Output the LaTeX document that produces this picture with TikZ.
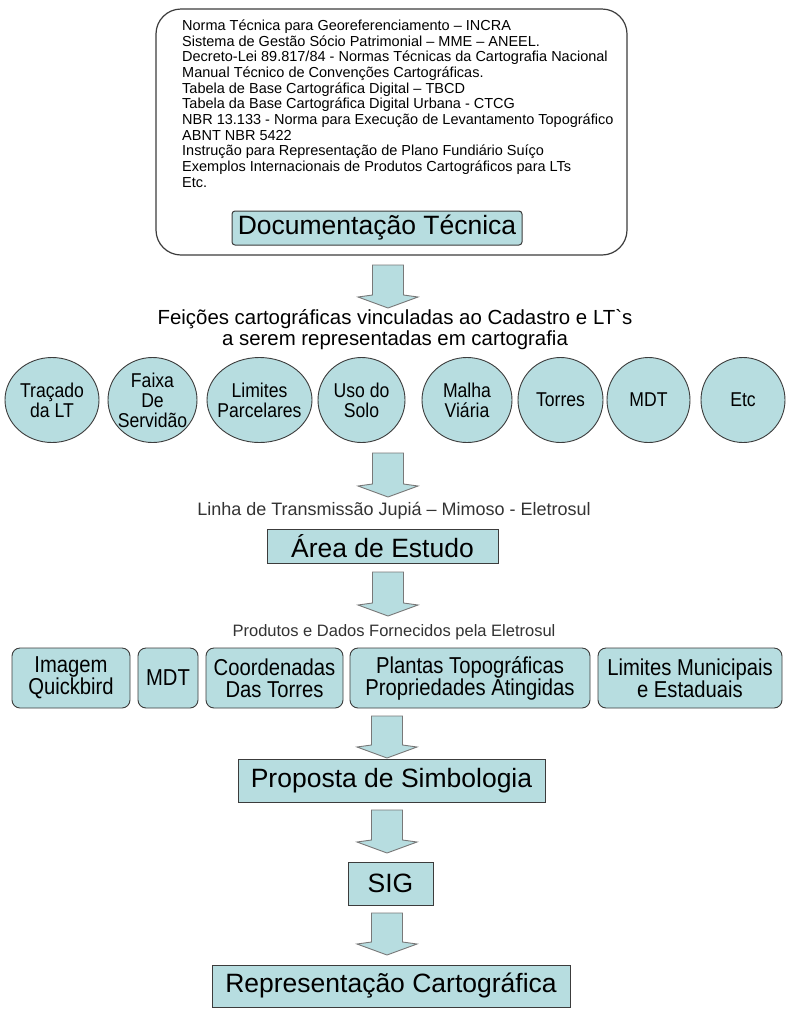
\documentclass[tikz,border=0pt]{standalone}
\usepackage{fontspec}
\setmainfont{Liberation Sans}
\newfontfamily\nf{Liberation Sans}[FakeStretch=0.88]
\usetikzlibrary{shapes.geometric}
\definecolor{lb}{RGB}{183,221,224}
\definecolor{bd}{RGB}{60,60,60}
\definecolor{ag}{RGB}{120,120,120}
\newcommand\myarrow[3]{%
  \draw[blockarrow] (#1-15.5,#2) -- (#1+15.5,#2) -- (#1+15.5,#3-13) -- (#1+30,#3-11)
    -- (#1,#3) -- (#1-30,#3-11) -- (#1-15.5,#3-13) -- cycle;}
\begin{document}
\begin{tikzpicture}[x=1pt,y=-1pt,
  blockarrow/.style={draw=ag, fill=lb, line width=0.9pt, line join=miter},
  mainbox/.style={draw=bd, fill=lb, line width=1pt, inner sep=0pt,
    font=\fontsize{26.5}{30}\selectfont},
  circ/.style={ellipse, draw=bd, fill=lb, line width=0.9pt, inner sep=0pt,
    minimum height=85pt},
  circtext/.style={inner sep=0pt, align=center, font=\nf\fontsize{20}{20}\selectfont},
  prodbox/.style={draw=bd, fill=lb, line width=0.9pt, rounded corners=8pt,
    inner sep=0pt, align=center, font=\nf\fontsize{23}{22}\selectfont},
  label/.style={inner sep=0pt, align=center}]
\useasboundingbox[fill=white] (0,0) rectangle (787,1010);

% documentation frame
\node[draw=bd, line width=1.2pt, rounded corners=25pt, minimum width=471pt,
  minimum height=246pt, inner sep=0pt] (frame) at (391.5,132) {};
\node[anchor=north west, inner sep=0pt, align=left,
  font=\fontsize{14.5}{15.7}\selectfont] (list) at (182,19.5) {%
Norma Técnica para Georeferenciamento – INCRA\\
Sistema de Gestão Sócio Patrimonial – MME – ANEEL.\\
Decreto-Lei 89.817/84 - Normas Técnicas da Cartografia Nacional\\
Manual Técnico de Convenções Cartográficas.\\
Tabela de Base Cartográfica Digital – TBCD\\
Tabela da Base Cartográfica Digital Urbana - CTCG\\
NBR 13.133 - Norma para Execução de Levantamento Topográfico\\
ABNT NBR 5422\\
Instrução para Representação de Plano Fundiário Suíço\\
Exemplos Internacionais de Produtos Cartográficos para LTs\\
Etc.};
\node[mainbox, rounded corners=3pt, minimum width=290pt, minimum height=34pt]
  (doc) at (377,228) {Documentação Técnica};

\myarrow{388}{265}{308}

\node[label, font=\fontsize{20.4}{21}\selectfont] (head) at (395,330)
  {Feições cartográficas vinculadas ao Cadastro e LT\textasciigrave s\\a serem representadas em cartografia};

% feature ellipses
\node[circ, minimum width=94pt] (c1) at (52,400) {};
\node[circ, minimum width=89pt] (c2) at (152.5,400) {};
\node[circ, minimum width=105pt] (c3) at (259.5,400) {};
\node[circ, minimum width=87pt] (c4) at (361.5,400) {};
\node[circ, minimum width=90pt] (c5) at (467,400) {};
\node[circ, minimum width=85pt] (c6) at (560.5,400) {};
\node[circ, minimum width=83pt] (c7) at (648.5,400) {};
\node[circ, minimum width=84pt] (c8) at (743,400) {};
\node[circtext] (t1) at (c1) {Traçado\\da LT};
\node[circtext] (t2) at (c2) {Faixa\\De\\Servidão};
\node[circtext] (t3) at (c3) {Limites\\Parcelares};
\node[circtext] (t4) at (c4) {Uso do\\Solo};
\node[circtext] (t5) at (c5) {Malha\\Viária};
\node[circtext] (t6) at (c6) {Torres};
\node[circtext] (t7) at (c7) {MDT};
\node[circtext] (t8) at (c8) {Etc};

\myarrow{388}{453}{497}

\node[label, font=\fontsize{18}{20}\selectfont, text=black!80] (linha) at (394,511)
  {Linha de Transmissão Jupiá – Mimoso - Eletrosul};
\node[mainbox, minimum width=231pt, minimum height=34pt] (area) at (382.5,546) {Área de Estudo};

\myarrow{388}{572}{616}

\node[label, font=\fontsize{16.5}{18}\selectfont, text=black!80] (prod) at (394,632)
  {Produtos e Dados Fornecidos pela Eletrosul};

\node[prodbox, minimum width=118pt, minimum height=60pt] (b1) at (71,678) {Imagem\\Quickbird};
\node[prodbox, minimum width=60pt, minimum height=60pt] (b2) at (168,678) {MDT};
\node[prodbox, minimum width=137pt, minimum height=60pt] (b3) at (274.5,678) {Coordenadas\\Das Torres};
\node[prodbox, minimum width=240pt, minimum height=60pt] (b4) at (470,678) {Plantas Topográficas\\Propriedades Atingidas};
\node[prodbox, minimum width=184pt, minimum height=60pt] (b5) at (690,678) {Limites Municipais\\e Estaduais};

\myarrow{387}{716}{758}

\node[mainbox, minimum width=307pt, minimum height=43pt] (prop) at (391.5,780.5) {Proposta de Simbologia};

\myarrow{387}{810}{853}

\node[mainbox, minimum width=85pt, minimum height=43pt] (sig) at (390.5,883.5) {SIG};

\myarrow{387}{913}{955}

\node[mainbox, minimum width=358pt, minimum height=42pt] (rep) at (391,986) {Representação Cartográfica};
\end{tikzpicture}
\end{document}
